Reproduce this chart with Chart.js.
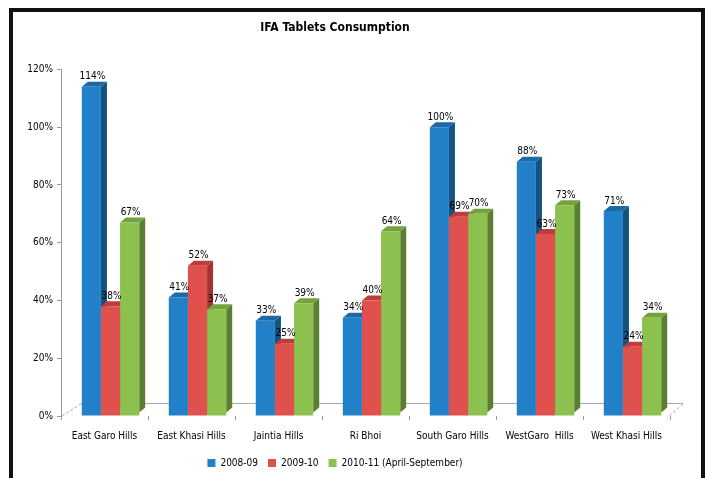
<!DOCTYPE html>
<html>
<head>
<meta charset="utf-8">
<script src="https://cdn.jsdelivr.net/npm/chart.js@4"></script>
<style>
  html, body { margin: 0; padding: 0; background: #fff; }
  #wrap { position: relative; width: 709px; height: 478px; overflow: hidden; }
  #frame { position: absolute; left: 9px; top: 8px; width: 688px; height: 500px;
           border: 4px solid #111; border-bottom: none; }
  canvas { position: absolute; left: 0; top: 0; }
</style>
</head>
<body>
<div id="wrap">
  <div id="frame"></div>
  <canvas id="chart" width="709" height="478"></canvas>
</div>
<script>
const districts = ['East Garo Hills', 'East Khasi Hills', 'Jaintia Hills', 'Ri Bhoi',
                   'South Garo Hills', 'WestGaro  Hills', 'West Khasi Hills'];
const years = ['2008-09', '2009-10', '2010-11 (April-September)'];
const y2008 = [114, 41, 33, 34, 100, 88, 71];
const y2009 = [38, 52, 25, 40, 69, 63, 24];
const y2010 = [67, 37, 39, 64, 70, 73, 34];
const yTicks = [0, 20, 40, 60, 80, 100, 120];

const FONT = "'Liberation Sans Narrow', 'DejaVu Sans Condensed', Arial, sans-serif";
Chart.defaults.font.family = FONT;
Chart.defaults.color = '#000';

// front, side, top colours per series
const shades = [
  ['#2180C8', '#14527F', '#1B69A6'],
  ['#E0504D', '#A53331', '#BE3D3A'],
  ['#8CC04F', '#5C7E33', '#74A23E']
];
const DX = 6, DY = 5, SHIFT = 6;

// fake 3d faces + floor + value labels
const bar3d = {
  id: 'bar3d',
  beforeDatasetsDraw(chart) {
    const ctx = chart.ctx, a = chart.chartArea;
    // floor lines
    ctx.save();
    ctx.strokeStyle = '#aaa';
    ctx.lineWidth = 1;
    ctx.beginPath();
    ctx.moveTo(a.left + 20, a.bottom - 12.5);
    ctx.lineTo(a.right + 13, a.bottom - 12.5);
    ctx.stroke();
    ctx.setLineDash([3, 2]);
    ctx.beginPath();
    ctx.moveTo(a.left + 1, a.bottom);
    ctx.lineTo(a.left + 20, a.bottom - 12);
    ctx.moveTo(a.right + 13, a.bottom - 12);
    ctx.lineTo(a.right - 3, a.bottom + 2);
    ctx.stroke();
    ctx.restore();

    ctx.save();
    ctx.translate(SHIFT, 0);
    chart.data.datasets.forEach((ds, i) => {
      chart.getDatasetMeta(i).data.forEach(bar => {
        const l = bar.x - bar.width / 2, r = bar.x + bar.width / 2;
        const t = bar.y, b = bar.base - 3;
        ctx.fillStyle = shades[i][1];
        ctx.beginPath();
        ctx.moveTo(r, t); ctx.lineTo(r + DX, t - DY);
        ctx.lineTo(r + DX, b - DY); ctx.lineTo(r, b);
        ctx.closePath(); ctx.fill();
        ctx.fillStyle = shades[i][2];
        ctx.beginPath();
        ctx.moveTo(l, t); ctx.lineTo(l + DX, t - DY);
        ctx.lineTo(r + DX, t - DY); ctx.lineTo(r, t);
        ctx.closePath(); ctx.fill();
      });
    });
  },
  afterDatasetsDraw(chart) {
    const ctx = chart.ctx;
    ctx.fillStyle = '#000';
    ctx.font = '10px ' + FONT;
    ctx.textAlign = 'center';
    ctx.textBaseline = 'bottom';
    chart.data.datasets.forEach((ds, i) => {
      chart.getDatasetMeta(i).data.forEach((bar, j) => {
        ctx.fillText(ds.data[j] + '%', bar.x + 1, bar.y - 5);
      });
    });
    ctx.restore();
  }
};

new Chart(document.getElementById('chart'), {
  type: 'bar',
  data: {
    labels: districts,
    datasets: [
      { label: years[0], data: y2008, backgroundColor: shades[0][0] },
      { label: years[1], data: y2009, backgroundColor: shades[1][0] },
      { label: years[2], data: y2010, backgroundColor: shades[2][0] }
    ]
  },
  options: {
    responsive: false,
    animation: false,
    layout: { padding: { left: 0, right: 39, top: 0, bottom: 0 } },
    datasets: { bar: { categoryPercentage: 0.66, barPercentage: 1.0, borderWidth: 0 } },
    plugins: {
      tooltip: { enabled: false },
      title: {
        display: true,
        text: 'IFA Tablets Consumption',
        font: { size: 12, weight: 'bold' },
        padding: { top: 21, bottom: 34 }
      },
      legend: {
        position: 'bottom',
        labels: { boxWidth: 8, boxHeight: 8, padding: 10, font: { size: 10 } }
      }
    },
    scales: {
      x: {
        grid: { offset: true, drawOnChartArea: false, tickLength: 4, color: '#999' },
        border: { display: false },
        ticks: { padding: 10, font: { size: 10 } },
        afterFit(s) { s.height = 32; }
      },
      y: {
        min: 0, max: 120,
        afterBuildTicks(s) { s.ticks = yTicks.map(v => ({ value: v })); },
        grid: { drawOnChartArea: false, tickLength: 4, color: '#999' },
        border: { color: '#999' },
        ticks: { padding: 4, font: { size: 10 }, callback: v => v + '%' },
        afterFit(s) { s.width = 61; }
      }
    }
  },
  plugins: [bar3d]
});
</script>
</body>
</html>
